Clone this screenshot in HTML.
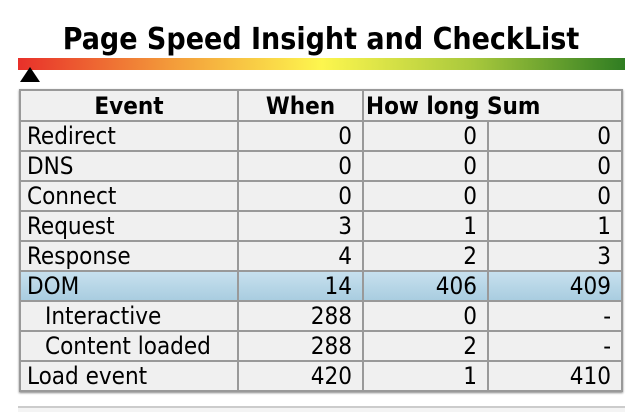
<!DOCTYPE html>
<html><head><meta charset="utf-8"><style>
body{margin:0;width:642px;height:420px;background:#fff;position:relative;overflow:hidden;font-family:"DejaVu Sans Condensed","Liberation Sans Narrow","Liberation Sans",sans-serif}
#title{position:absolute;left:0;width:642px;top:20px;text-align:center;font-weight:bold;font-size:30px;line-height:40px;color:#000}
#bar{position:absolute;left:18px;top:58px;width:607px;height:12px;background:linear-gradient(90deg,#e8302a 0%,#f39a3a 25%,#fdf64e 50%,#a8c83c 75%,#2f7d22 100%)}
#tri{position:absolute;left:20px;top:67px;width:0;height:0;border-left:10px solid transparent;border-right:10px solid transparent;border-bottom:15px solid #000}
table{position:absolute;left:19px;top:89px;border-collapse:collapse;font-size:24px;box-shadow:0 1px 2px #888;border:2px solid #999}
td,th{border:2px solid #999;background:#f0f0f0;height:28px;padding:0 8px 0 6px;line-height:28px;white-space:nowrap;color:#000;box-sizing:border-box}
th{font-weight:bold;text-align:center;padding:0;height:31px}
td{height:30px}
td.n{text-align:right;padding-right:10px}
tr.dom td{background:linear-gradient(#c7e0ee,#a9cde0)}
td.ind{padding-left:24px}
#bottom{position:absolute;left:18px;top:406px;width:607px;height:4px;border-top:2px solid #ccc;background:#f4f4f4}
</style></head><body>
<div id="title">Page Speed Insight and CheckList</div>
<div id="bar"></div>
<div id="tri"></div>
<table>
<colgroup><col style="width:218px"><col style="width:125px"><col style="width:125px"><col style="width:134px"></colgroup>
<tr><th>Event</th><th>When</th><th colspan="2" style="text-align:left;padding-left:2px">How long Sum</th></tr>
<tr><td>Redirect</td><td class="n">0</td><td class="n">0</td><td class="n">0</td></tr>
<tr><td>DNS</td><td class="n">0</td><td class="n">0</td><td class="n">0</td></tr>
<tr><td>Connect</td><td class="n">0</td><td class="n">0</td><td class="n">0</td></tr>
<tr><td>Request</td><td class="n">3</td><td class="n">1</td><td class="n">1</td></tr>
<tr><td>Response</td><td class="n">4</td><td class="n">2</td><td class="n">3</td></tr>
<tr class="dom"><td>DOM</td><td class="n">14</td><td class="n">406</td><td class="n">409</td></tr>
<tr><td class="ind">Interactive</td><td class="n">288</td><td class="n">0</td><td class="n">-</td></tr>
<tr><td class="ind">Content loaded</td><td class="n">288</td><td class="n">2</td><td class="n">-</td></tr>
<tr><td>Load event</td><td class="n">420</td><td class="n">1</td><td class="n">410</td></tr>
</table>
<div id="bottom"></div>
</body></html>
